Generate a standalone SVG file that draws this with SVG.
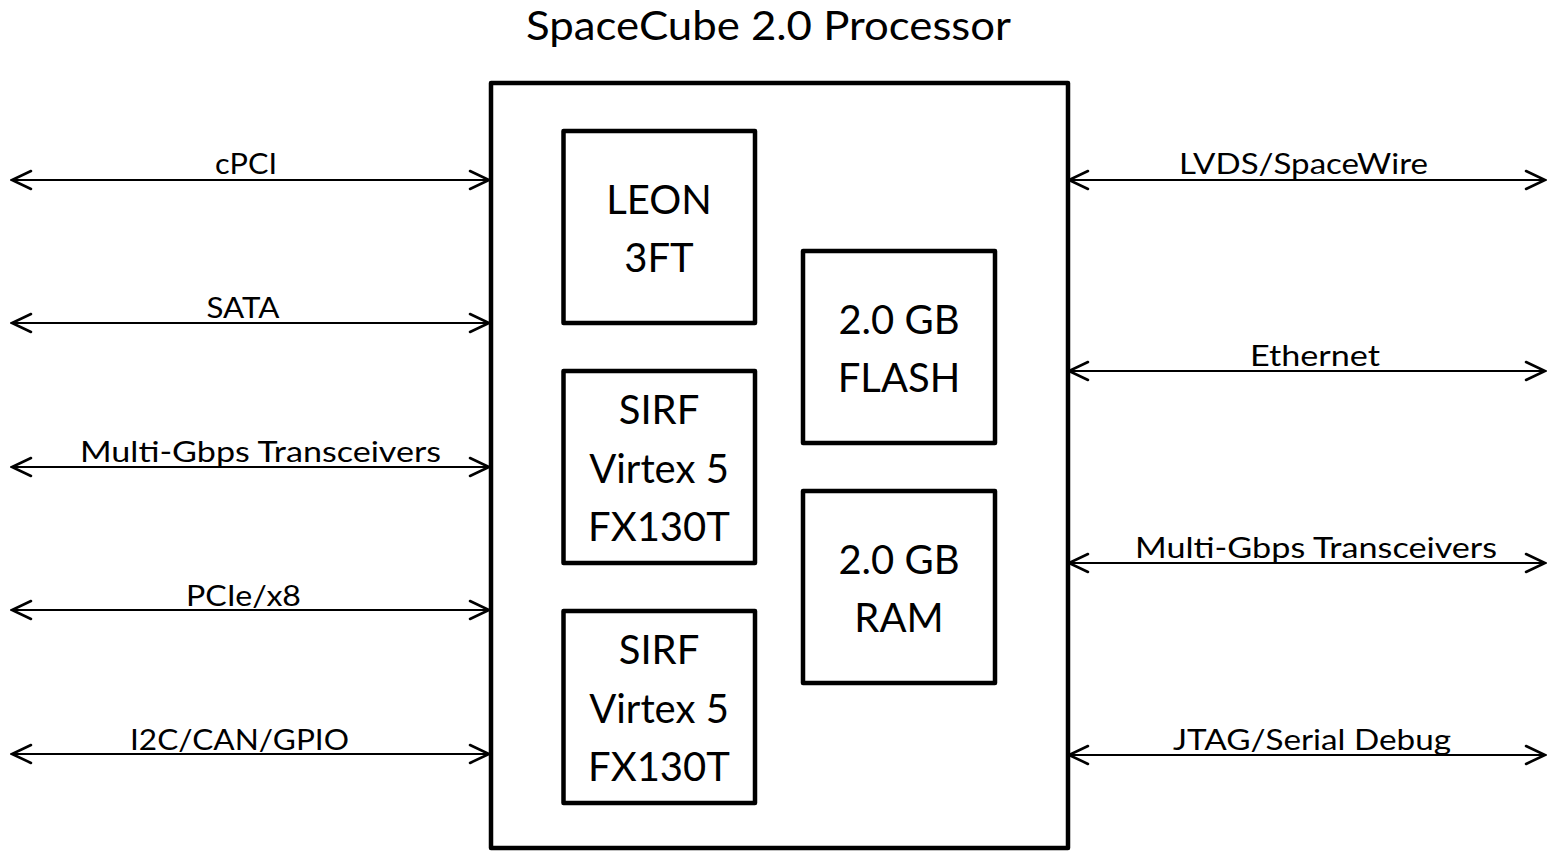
<svg xmlns="http://www.w3.org/2000/svg" width="1547" height="851" viewBox="0 0 1547 851">
<defs>
<marker id="ah" viewBox="0 0 24 24" refX="22" refY="12" markerWidth="24" markerHeight="24" markerUnits="userSpaceOnUse" orient="auto-start-reverse">
<path d="M3,3 L22,12 L3,21" fill="none" stroke="#000" stroke-width="2.5" stroke-linecap="round" stroke-linejoin="miter"/>
</marker>
<style>
.box{fill:#fff;stroke:#000;stroke-width:4.5;stroke-linejoin:round}
.ln{stroke:#000;stroke-width:2.2;fill:none;marker-start:url(#ah);marker-end:url(#ah)}
.lbl{font-family:Lato,"Liberation Sans",sans-serif;font-size:29px;fill:#000;text-anchor:middle}
.bt{font-family:Lato,"Liberation Sans",sans-serif;font-size:40px;fill:#000;text-anchor:middle}
.ttl{font-family:Lato,"Liberation Sans",sans-serif;font-size:40px;fill:#000;text-anchor:middle}
</style>
</defs>
<rect width="1547" height="851" fill="#fff"/>
<text class="ttl" x="768.5" y="40" textLength="485" lengthAdjust="spacingAndGlyphs">SpaceCube 2.0 Processor</text>
<g id="connectors">
<line class="ln" x1="12" y1="180" x2="489" y2="180"/>
<line class="ln" x1="12" y1="323" x2="489" y2="323"/>
<line class="ln" x1="12" y1="467" x2="489" y2="467"/>
<line class="ln" x1="12" y1="610" x2="489" y2="610"/>
<line class="ln" x1="12" y1="754" x2="489" y2="754"/>
<line class="ln" x1="1069" y1="180" x2="1545" y2="180"/>
<line class="ln" x1="1069" y1="371" x2="1545" y2="371"/>
<line class="ln" x1="1069" y1="563" x2="1545" y2="563"/>
<line class="ln" x1="1069" y1="755" x2="1545" y2="755"/>
<text class="lbl" x="246" y="174" textLength="62" lengthAdjust="spacingAndGlyphs">cPCI</text>
<text class="lbl" x="243" y="318" textLength="73" lengthAdjust="spacingAndGlyphs">SATA</text>
<text class="lbl" x="260.5" y="462" textLength="361" lengthAdjust="spacingAndGlyphs">Multi-Gbps Transceivers</text>
<text class="lbl" x="243.5" y="606" textLength="115" lengthAdjust="spacingAndGlyphs">PCIe/x8</text>
<text class="lbl" x="239.5" y="750" textLength="219" lengthAdjust="spacingAndGlyphs">I2C/CAN/GPIO</text>
<text class="lbl" x="1303.5" y="174" textLength="249" lengthAdjust="spacingAndGlyphs">LVDS/SpaceWire</text>
<text class="lbl" x="1315" y="366" textLength="130" lengthAdjust="spacingAndGlyphs">Ethernet</text>
<text class="lbl" x="1316" y="558" textLength="362" lengthAdjust="spacingAndGlyphs">Multi-Gbps Transceivers</text>
<text class="lbl" x="1312" y="750" textLength="278" lengthAdjust="spacingAndGlyphs">JTAG/Serial Debug</text>
</g>
<g id="processor">
<rect class="box" x="491" y="83" width="577" height="765"/>
</g>
<g id="leon">
<rect class="box" x="563.5" y="131" width="191.5" height="192"/>
<text class="bt" x="659" y="214">LEON</text>
<text class="bt" x="659" y="272">3FT</text>
</g>
<g id="sirf1">
<rect class="box" x="563.5" y="371" width="191.5" height="192"/>
<text class="bt" x="659" y="424">SIRF</text>
<text class="bt" x="659" y="483">Virtex 5</text>
<text class="bt" x="659" y="541">FX130T</text>
</g>
<g id="sirf2">
<rect class="box" x="563.5" y="611" width="191.5" height="192"/>
<text class="bt" x="659" y="664">SIRF</text>
<text class="bt" x="659" y="723">Virtex 5</text>
<text class="bt" x="659" y="781">FX130T</text>
</g>
<g id="flash">
<rect class="box" x="803" y="251" width="192" height="192"/>
<text class="bt" x="899" y="334">2.0 GB</text>
<text class="bt" x="899" y="392">FLASH</text>
</g>
<g id="ram">
<rect class="box" x="803" y="491" width="192" height="192"/>
<text class="bt" x="899" y="574">2.0 GB</text>
<text class="bt" x="899" y="632">RAM</text>
</g>
</svg>
